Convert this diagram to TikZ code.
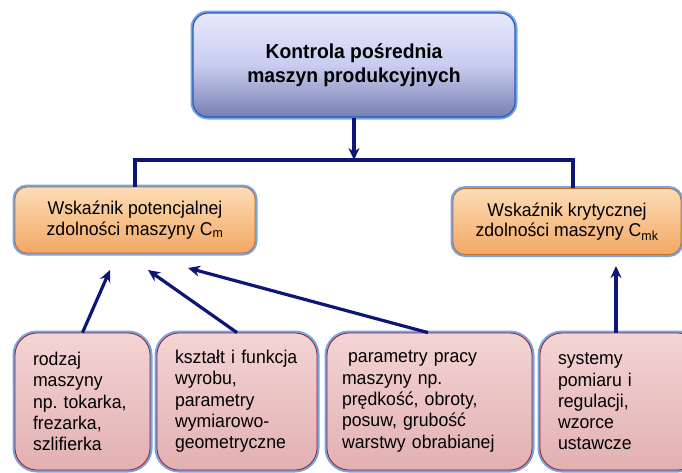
\documentclass[tikz,border=0pt]{standalone}
\usepackage{fontspec}
\setmainfont{Liberation Sans}[FakeStretch=0.955]
\usetikzlibrary{arrows.meta}
\frenchspacing

\definecolor{navyline}{RGB}{12,22,120}
\definecolor{glowblue}{RGB}{120,165,225}
\definecolor{lavtop}{RGB}{232,232,252}
\definecolor{lavmid}{RGB}{200,204,240}
\definecolor{lavbot}{RGB}{118,128,176}
\definecolor{lavedge}{RGB}{40,90,190}
\definecolor{orgtop}{RGB}{253,220,182}
\definecolor{orgbot}{RGB}{242,168,100}
\definecolor{orgedge}{RGB}{196,108,40}
\definecolor{pinktop}{RGB}{244,212,212}
\definecolor{pinkbot}{RGB}{226,176,178}
\definecolor{pinkedge}{RGB}{150,30,45}

\begin{document}
\begin{tikzpicture}[x=1pt,y=-1pt,>={Stealth[length=12pt,width=11pt]},
  glow/.style={preaction={draw=glowblue,line width=5pt}},
  topbox/.style={glow,draw=lavedge,line width=1.2pt,rounded corners=15pt,
    top color=lavtop,bottom color=lavbot,middle color=lavmid,
    minimum width=322pt,minimum height=104pt,align=center,
    font=\fontsize{20.2}{23.5}\selectfont\bfseries},
  cbox/.style={glow,draw=orgedge,line width=0.8pt,rounded corners=12pt,
    top color=orgtop,bottom color=orgbot,
    minimum height=66pt,align=center,font=\fontsize{18.5}{20.5}\selectfont},
  pbox/.style={glow,draw=pinkedge,line width=0.8pt,rounded corners=22pt,
    top color=pinktop,bottom color=pinkbot,inner xsep=18pt,
    minimum height=137pt,align=left,font=\fontsize{18.5}{21.3}\selectfont},
  conn/.style={draw=navyline,line width=3.2pt}]
  \useasboundingbox (0,0) rectangle (682,472);
  \clip (0,0) rectangle (682,472);

  \node[topbox] (kontrola) at (354,65) {Kontrola pośrednia\\maszyn produkcyjnych};
  \node[cbox,minimum width=240pt] (cm) at (135,220) {Wskaźnik potencjalnej\\zdolności maszyny C\textsubscript{m}};
  \node[cbox,minimum width=228pt] (cmk) at (567,221.5) {Wskaźnik krytycznej\\zdolności maszyny C\textsubscript{mk}};

  \node[pbox,text width=99pt] (rodzaj) at (82.5,401.5) {rodzaj\\maszyny\\np. tokarka,\\frezarka,\\szlifierka};
  \node[pbox,text width=124pt] (ksztalt) at (237,401.5) {kształt i funkcja\\wyrobu,\\parametry\\wymiarowo-\\geometryczne};
  \node[pbox,text width=175pt,inner xsep=15pt] (praca) at (429.5,401.5) {\ parametry pracy\\maszyny np.\\prędkość, obroty,\\posuw, grubość\\warstwy obrabianej};
  \node[pbox,text width=124pt] (systemy) at (620,401.5) {systemy\\pomiaru i\\regulacji,\\wzorce\\ustawcze};

  % tree from the main box
  \coordinate (hub) at (354,160);
  \draw[conn] (cm.north) |- (hub) -| ([xshift=6pt]cmk.north);
  \draw[conn,->] (kontrola.south) -- (hub);

  % factors
  \coordinate (t1) at (110,270);
  \coordinate (t2) at (148,270);
  \coordinate (t3) at (188,268);
  \coordinate (t4) at (616,266);
  \draw[conn,->] (rodzaj.north) -- (t1);
  \draw[conn,->] (ksztalt.north) -- (t2);
  \draw[conn,->] ([xshift=-1.5pt]praca.north) -- (t3);
  \draw[conn,->] ([xshift=-4pt]systemy.north) -- (t4);
\end{tikzpicture}
\end{document}
